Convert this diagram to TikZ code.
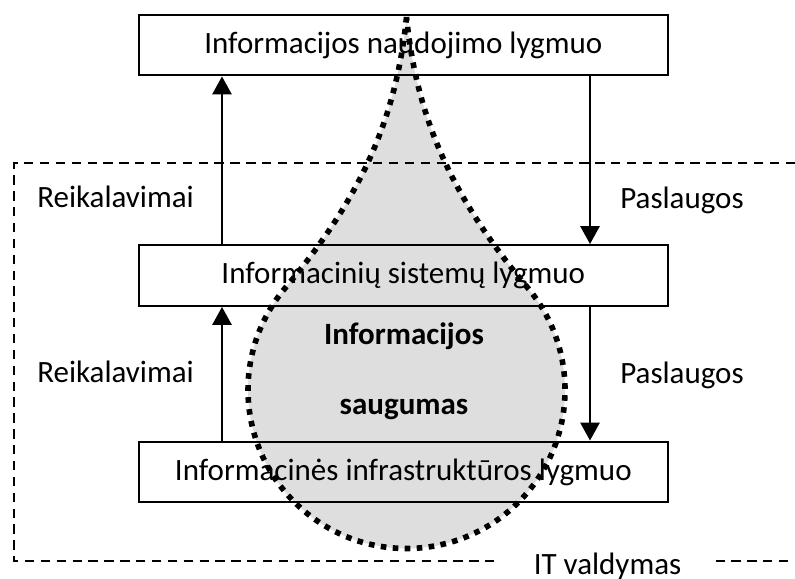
\documentclass[tikz,border=0pt]{standalone}
\usepackage{fontspec}
\setmainfont{Carlito}
\usetikzlibrary{arrows.meta}
\begin{document}
\begin{tikzpicture}[x=0.75pt,y=0.75pt,
  txt/.style={font=\fontsize{23.25}{28}\selectfont},
  level/.style={txt, draw, line width=1.7pt, minimum width=396.75pt,
    minimum height=45.5pt, inner sep=0pt},
  side/.style={txt, inner sep=0pt},
  flow/.style={line width=1.5pt, -{Triangle[length=13.5pt,width=14.5pt]}},
  frame/.style={line width=1.5pt, dash pattern=on 7pt off 4.9pt},
  droplet/.style={fill=black, fill opacity=0.13, draw=black, line width=4.2pt,
    dash pattern=on 4.2pt off 4.8pt, line join=bevel}
]
\useasboundingbox (0,0) rectangle (795,578);

% corners of the dashed IT governance frame (open on the right)
\coordinate (frameTR) at (795,415);
\coordinate (frameTL) at (14,415);
\coordinate (frameBL) at (14,17);
\coordinate (frameBR) at (795,17);

% label that interrupts the bottom edge of the frame
\node[side, inner xsep=25.5pt, anchor=base] (itv) at (607.5,4) {IT valdymas};
\draw[frame] (frameTR) -- (frameTL) -- (frameBL) -- (itv.west |- frameBL);
\draw[frame] (itv.east |- frameBL) -- (frameBR);

% the three levels
\node[level] (use)   at (403.3,533)   {Informacijos naudojimo lygmuo};
\node[level] (sys)   at (403.3,302.5) {Informacinių sistemų lygmuo};
\node[level] (infra) at (403.3,106)   {Informacinės infrastruktūros lygmuo};

% requirements go up, services come down
\coordinate (upx) at (222,0);
\coordinate (downx) at (590,0);
\draw[flow] (sys.north -| upx) -- (use.south -| upx);
\draw[flow] (use.south -| downx) -- (sys.north -| downx);
\draw[flow] (infra.north -| upx) -- (sys.south -| upx);
\draw[flow] (sys.south -| downx) -- (infra.north -| downx);

\node[side, anchor=base west] (req1) at (37,370) {Reikalavimai};
\node[side, anchor=base west] (req2) at (37,195) {Reikalavimai};
\node[side, anchor=base west] (srv1) at (620,369) {Paslaugos};
\node[side, anchor=base west] (srv2) at (620,194) {Paslaugos};

% information security drop spanning all levels
\draw[droplet] (406.5,561)
  .. controls (396.5,461) and (362.2,381.5) .. (285.1,289.9)
  arc[start angle=140, end angle=400, radius=158.5]
  .. controls (450.8,381.5) and (416.5,461) .. (406.5,561) -- cycle;

\node[side, font=\fontsize{23.25}{28}\selectfont\bfseries, anchor=base] (secA) at (404,233) {Informacijos};
\node[side, font=\fontsize{23.25}{28}\selectfont\bfseries, anchor=base] (secB) at (404,163) {saugumas};
\end{tikzpicture}
\end{document}
